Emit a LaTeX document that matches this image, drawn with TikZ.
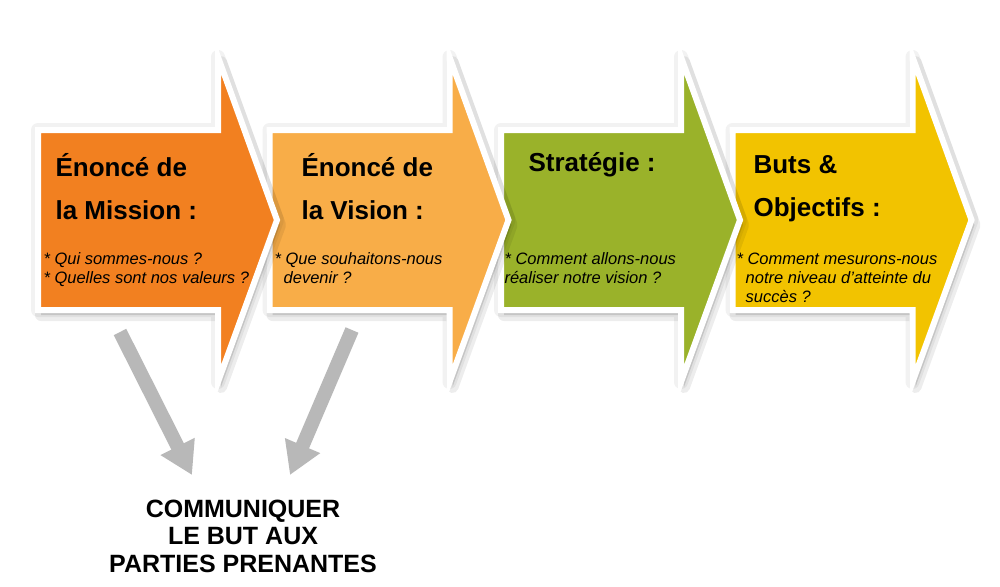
\documentclass[tikz,border=0pt]{standalone}
\usepackage{fontspec}
\setmainfont{Liberation Sans}
\usetikzlibrary{arrows.meta}
\definecolor{c1}{HTML}{F28020}
\definecolor{c2}{HTML}{F8AD48}
\definecolor{c3}{HTML}{9AB22A}
\definecolor{c4}{HTML}{F2C300}
\definecolor{gr}{HTML}{B8B8B8}
\tikzset{
  chev/.style={fill=#1,draw=white,line width=6pt,line join=miter},
  shad/.style={fill=black,opacity=0.12,draw=black,line width=12pt,draw opacity=0.07,line join=round},
  glow/.style={draw=black,line width=14pt,draw opacity=0.05,line join=round},
  ttl/.style={anchor=west,font=\bfseries\fontsize{26}{26}\selectfont},
  body/.style={anchor=north west,align=left,font=\itshape\fontsize{16.5}{19}\selectfont},
  garrow/.style={draw=gr,line width=14pt,-{Triangle[length=32pt,width=36pt]}}
}
\begin{document}
\begin{tikzpicture}[x=1pt,y=-1pt]
\useasboundingbox (0,0) rectangle (1000,586);
\fill[white] (0,0) rectangle (1000,586);
\draw[garrow] (120,332) -- (192,475);
\draw[garrow] (352,330) -- (290,475);
\foreach \i/\c in {3/c4,2/c3,1/c2,0/c1}{
  \begin{scope}[xshift=\i*231.5]
  \path[glow] (38,130) -- (218,130) -- (218,57) -- (277,220) -- (218,382) -- (218,310) -- (38,310) -- cycle;
  \path[shad,xshift=3,yshift=-5] (38,130) -- (218,130) -- (218,57) -- (277,220) -- (218,382) -- (218,310) -- (38,310) -- cycle;
  \draw[chev=\c] (38,130) -- (218,130) -- (218,57) -- (277,220) -- (218,382) -- (218,310) -- (38,310) -- cycle;
  \end{scope}
}
\node[ttl] (t1a) at (52,165) {Énoncé de};
\node[ttl] (t1b) at (52,210) {la Mission :};
\node[body] (b1) at (40,249) {* Qui sommes-nous ?\\* Quelles sont nos valeurs ?};
\node[ttl] (t2a) at (298,165) {Énoncé de};
\node[ttl] (t2b) at (298,210) {la Vision :};
\node[body] (b2) at (271,249) {* Que souhaitons-nous\\\ \ devenir ?};
\node[ttl] (t3) at (525,165) {Stratégie :};
\node[body] (b3) at (501,249) {* Comment allons-nous\\réaliser notre vision ?};
\node[ttl] (t4a) at (750,165) {Buts \&};
\node[ttl] (t4b) at (750,210) {Objectifs :};
\node[body] (b4) at (733,249) {* Comment mesurons-nous\\\ \ notre niveau d'atteinte du\\\ \ succès ?};
\node[font=\bfseries\fontsize{25}{27.5}\selectfont,align=center] (c) at (243,536) {COMMUNIQUER\\LE BUT AUX\\PARTIES PRENANTES};
\end{tikzpicture}
\end{document}
